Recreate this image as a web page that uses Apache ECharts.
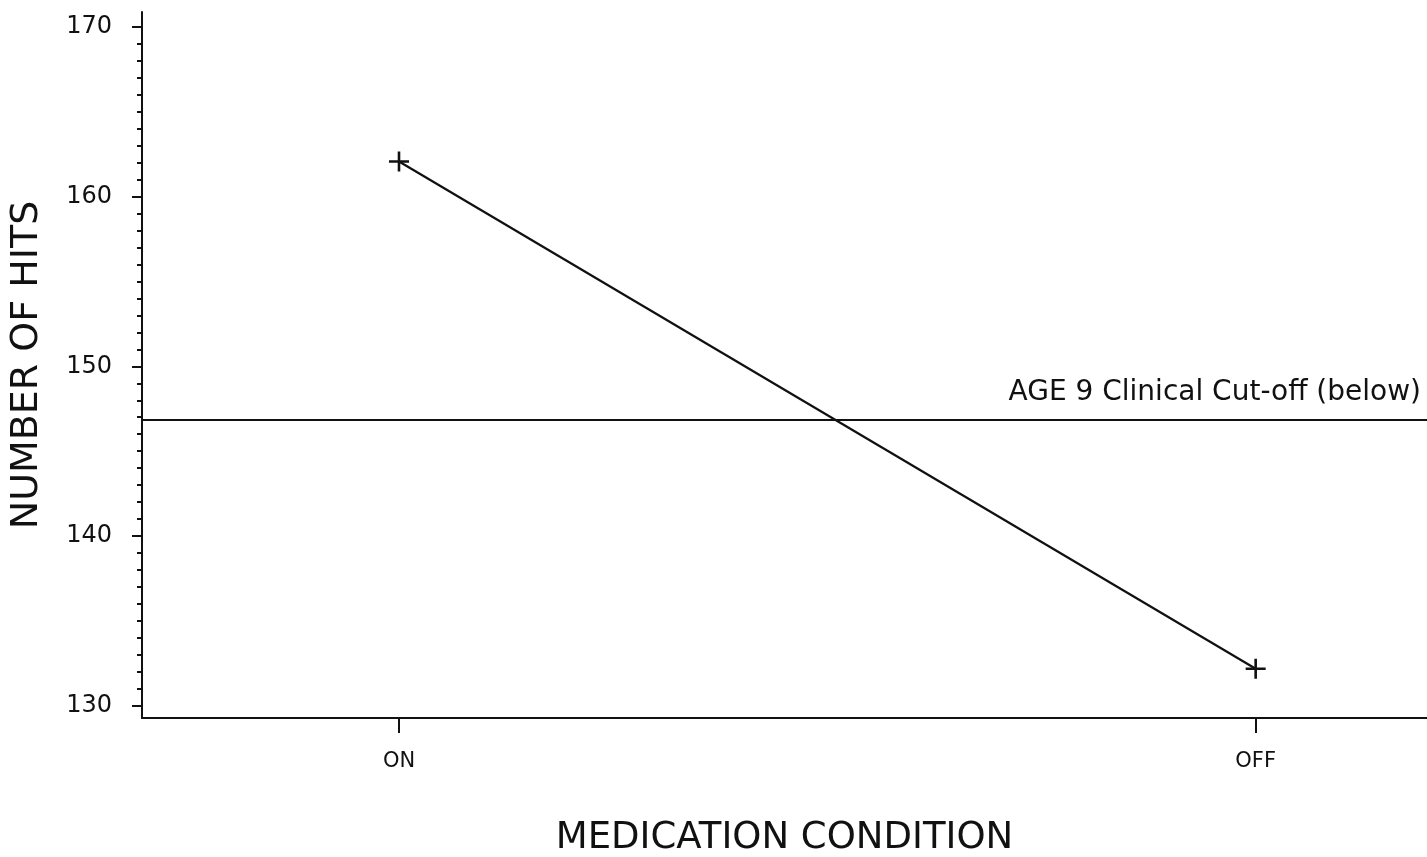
<!DOCTYPE html>
<html>
<head>
<meta charset="utf-8">
<script src="https://cdn.jsdelivr.net/npm/echarts@6/dist/echarts.min.js"></script>
<style>
html,body{margin:0;padding:0;background:#fff;}
#chart{width:1427px;height:857px;}
</style>
</head>
<body>
<div id="chart"></div>
<script>
const categories = ['ON', 'OFF'];
const hits = [162.05, 132.2];
const cutoffValue = 146.85;
const cutoffLabel = 'AGE 9 Clinical Cut-off (below)';
const yMajorTicks = [130, 140, 150, 160, 170];
const yMinorTicks = [];
for (let v = 130; v <= 170; v++) yMinorTicks.push(v);
const xPositions = [1, 2];

const FONT = 'DejaVu Sans';
const chart = echarts.init(document.getElementById('chart'), null, {renderer: 'canvas'});

const yBase = {
  type: 'value', min: 129.3, max: 170.85, position: 'left',
  splitLine: {show: false}
};

chart.setOption({
  animation: false,
  backgroundColor: '#fff',
  grid: {left: 142, right: 0, top: 12, bottom: 139, containLabel: false, outerBoundsMode: 'none'},
  xAxis: {
    type: 'value', min: 0.7, max: 2.2,
    name: 'MEDICATION CONDITION', nameLocation: 'middle', nameGap: 102,
    nameTextStyle: {fontFamily: FONT, fontSize: 37, color: '#111'},
    axisLine: {show: true, lineStyle: {color: '#111', width: 2}},
    axisTick: {show: true, length: 15, customValues: xPositions, lineStyle: {color: '#111', width: 2}},
    axisLabel: {customValues: xPositions, margin: 33, fontFamily: FONT, fontSize: 21, color: '#111',
      formatter: v => categories[Math.round(v) - 1]},
    splitLine: {show: false}
  },
  yAxis: [
    Object.assign({}, yBase, {
      name: 'NUMBER OF HITS', nameLocation: 'middle', nameGap: 96, nameRotate: 90,
      nameTextStyle: {fontFamily: FONT, fontSize: 38, color: '#111'},
      axisLine: {show: true, lineStyle: {color: '#111', width: 2}},
      axisTick: {show: true, length: 10, customValues: yMajorTicks, lineStyle: {color: '#111', width: 2}},
      axisLabel: {customValues: yMajorTicks, margin: 30, fontFamily: FONT, fontSize: 24, color: '#111'}
    }),
    Object.assign({}, yBase, {
      axisLine: {show: false},
      axisTick: {show: true, length: 5, customValues: yMinorTicks, lineStyle: {color: '#111', width: 2}},
      axisLabel: {show: false}
    })
  ],
  series: [{
    type: 'line',
    yAxisIndex: 0,
    data: xPositions.map((x, i) => [x, hits[i]]),
    lineStyle: {color: '#111', width: 2.2},
    symbol: 'path://M0,4.35H10V5.65H0Z M4.35,0H5.65V10H4.35Z',
    symbolSize: 20,
    itemStyle: {color: '#111'},
    markLine: {
      silent: true,
      symbol: ['none', 'none'],
      lineStyle: {color: '#111', width: 2, type: 'solid'},
      label: {show: true, position: 'insideEndTop', formatter: cutoffLabel,
        fontFamily: FONT, fontSize: 28, color: '#111', distance: [6, 13]},
      data: [{yAxis: cutoffValue}]
    }
  }]
});
</script>
</body>
</html>
